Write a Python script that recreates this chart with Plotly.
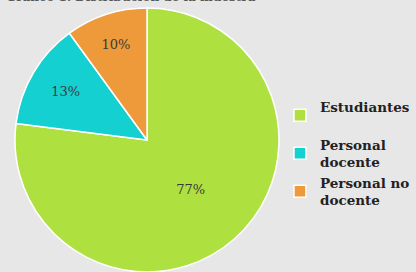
import plotly.graph_objects as go

categories = ["Estudiantes", "Personal docente", "Personal no docente"]
legend_labels = ["Estudiantes<br> ", "Personal<br>docente", "Personal no<br>docente"]
values = [77, 13, 10]
colors = ["#aee13f", "#14d0d0", "#ee9a3a"]
title_text = "Gráfico 1. Distribución de la muestra"

W, H = 416, 272
cx, r = 147, 132
fig = go.Figure(go.Pie(
    labels=legend_labels,
    values=values,
    sort=False,
    direction="clockwise",
    rotation=0,
    marker=dict(colors=colors, line=dict(color="white", width=1.5)),
    texttemplate="%{percent:.0%}",
    textposition="inside",
    insidetextorientation="horizontal",
    textfont=dict(family="DejaVu Serif", size=13, color="#3a3a3a"),
    domain=dict(x=[(cx - r) / W, (cx + r) / W], y=[0, 1 - 8 / H]),
    hoverinfo="label+percent",
))
fig.update_layout(
    width=W, height=H,
    margin=dict(l=0, r=0, t=0, b=0, autoexpand=False),
    paper_bgcolor="#e7e7e7",
    plot_bgcolor="#e7e7e7",
    showlegend=True,
    legend=dict(x=0.673, y=0.665, xanchor="left", yanchor="top",
                font=dict(family="DejaVu Serif", size=13.5, color="#222222", weight="bold"),
                bgcolor="rgba(0,0,0,0)", itemwidth=30),
    annotations=[dict(text="<b>" + title_text + "</b>", xref="paper", yref="paper",
                      x=0.01, y=1.0, xanchor="left", yanchor="bottom", yshift=-6,
                      showarrow=False,
                      font=dict(family="DejaVu Serif", size=12, color="#555555"))],
)
fig.write_html("out.html", config={"displayModeBar": False},
               post_script="document.body.style.margin='0';document.body.style.background='#e7e7e7';")
